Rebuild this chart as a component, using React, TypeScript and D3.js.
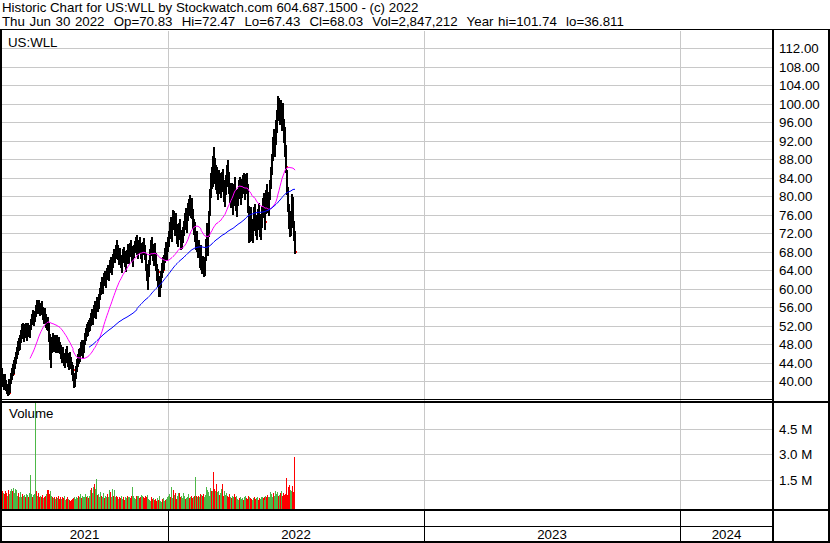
import React from 'react';
import * as d3 from 'd3';

const W = 830;
const H = 543;

// Daily bars, Mon-Fri from 2021-05-10 to 2022-06-30, one row per week.
const highs: number[] = [
  42.9, 41.5, 40.8, 41.6, 40.2, 39.5, 38.8, 40.6, 39.2, 40.2,
  41.8, 42.9, 43.8, 44.6, 45.3, 46.4, 47.5, 48.8, 49.4, 50.0,
  51.2, 52.4, 52.6, 51.5, 52.3, 52.5, 51.6, 52.6, 52.2, 52.0,
  53.4, 54.6, 55.4, 54.5, 55.3, 56.6, 57.6, 57.2, 57.5, 56.4,
  56.9, 57.3, 56.0, 55.2, 55.8, 54.6, 53.8, 53.9, 52.6, 50.2,
  47.8, 49.6, 50.4, 49.4, 50.1, 49.2, 50.0, 48.8, 49.6, 48.6,
  47.9, 46.8, 47.4, 46.1, 45.8, 46.9, 47.6, 46.2, 45.5, 46.3,
  45.3, 44.2, 43.1, 43.6, 41.9, 41.5, 43.4, 44.8, 46.0, 46.9,
  47.2, 48.4, 48.9, 48.0, 49.0, 50.4, 51.6, 52.4, 52.8, 53.3,
  53.6, 54.8, 55.6, 55.2, 56.4, 57.3, 56.6, 58.3, 58.0, 58.8,
  60.1, 61.4, 62.5, 61.8, 63.4, 63.8, 63.0, 64.6, 65.2, 64.8,
  66.2, 66.8, 66.0, 67.6, 68.5, 68.3, 69.4, 70.6, 69.5, 68.4,
  68.8, 67.4, 66.9, 68.5, 69.0, 68.2, 66.8, 68.4, 69.6, 68.6,
  69.8, 70.5, 69.2, 68.0, 69.4, 70.4, 71.3, 71.7, 70.8, 69.6,
  70.6, 71.2, 69.8, 68.7, 70.2, 71.0, 69.5, 67.6, 65.4, 63.5,
  66.3, 68.5, 70.6, 71.2, 69.6, 68.4, 69.8, 67.8, 65.4, 64.2,
  62.8, 61.6, 63.8, 65.6, 66.8, 67.4, 68.9, 70.2, 69.4, 71.2,
  72.6, 74.5, 75.6, 74.4, 77.0, 76.8, 75.2, 76.4, 74.0, 72.9,
  74.2, 75.0, 72.8, 71.6, 73.4, 74.6, 76.3, 77.4, 76.0, 78.5,
  79.4, 80.3, 79.2, 79.6, 77.2, 75.0, 74.4, 72.2, 72.6, 70.4,
  70.5, 68.6, 69.4, 67.8, 66.4, 67.2, 65.6, 66.8, 70.8, 74.2,
  72.4, 76.8, 81.6, 85.0, 86.4, 88.8, 90.7, 88.2, 86.8, 86.4,
  83.8, 85.7, 85.0, 83.4, 85.2, 86.0, 83.6, 82.0, 84.6, 86.8,
  87.8, 85.2, 82.8, 81.6, 82.8, 80.4, 82.6, 84.2, 81.4, 79.6,
  81.6, 83.6, 84.2, 82.4, 83.8, 84.6, 85.0, 83.4, 84.8, 85.0,
  82.6, 77.8, 75.4, 77.7, 75.2, 74.6, 77.6, 78.4, 76.0, 74.8,
  77.2, 78.5, 76.2, 74.6, 78.0, 79.6, 80.8, 78.6, 77.2, 81.4,
  82.6, 81.0, 80.6, 83.5, 86.4, 89.2, 92.8, 94.6, 93.4, 96.5,
  98.6, 101.74, 101.2, 100.4, 100.8, 99.6, 100.2, 96.8, 95.0, 91.0,
  85.7, 82.0, 78.4, 76.8, 75.6, 80.6, 79.8, 74.6, 72.47,
];

const lows: number[] = [
  39.5, 38.8, 38.2, 39.0, 37.8, 37.2, 36.811, 37.8, 37.0, 37.4,
  39.4, 40.3, 41.2, 41.5, 42.6, 43.8, 44.9, 45.6, 46.5, 46.8,
  48.3, 49.6, 49.2, 48.6, 49.4, 49.5, 48.8, 50.0, 49.6, 49.4,
  51.0, 52.2, 52.8, 52.0, 52.9, 54.0, 55.0, 54.5, 55.1, 54.2,
  54.3, 54.6, 53.2, 52.4, 52.8, 51.6, 51.0, 50.8, 48.6, 44.5,
  42.9, 46.2, 47.3, 46.4, 47.0, 46.1, 46.8, 46.2, 46.7, 45.8,
  44.8, 43.9, 44.6, 43.2, 42.8, 44.0, 44.6, 43.1, 42.4, 43.5,
  42.6, 41.3, 40.2, 40.0, 38.6, 38.8, 40.6, 42.0, 43.1, 43.8,
  44.2, 45.5, 45.8, 45.1, 46.2, 47.8, 48.8, 49.5, 49.9, 50.6,
  50.9, 52.0, 52.4, 52.2, 53.6, 54.4, 53.5, 55.4, 55.0, 55.6,
  57.6, 58.6, 59.4, 58.8, 60.5, 60.8, 60.2, 61.8, 62.3, 61.7,
  63.4, 63.9, 63.0, 64.6, 65.6, 65.5, 66.4, 67.6, 66.2, 65.1,
  65.6, 64.4, 63.4, 65.5, 66.0, 64.8, 63.6, 65.4, 66.5, 65.4,
  66.9, 67.2, 65.8, 64.7, 66.6, 67.8, 68.6, 68.9, 67.4, 66.5,
  67.6, 68.0, 66.4, 65.6, 67.3, 68.0, 66.2, 63.8, 61.6, 59.7,
  62.6, 65.2, 67.2, 67.8, 66.0, 65.0, 66.4, 63.8, 61.6, 60.4,
  58.3, 58.2, 60.2, 62.4, 63.4, 64.0, 65.6, 66.8, 66.0, 67.9,
  69.0, 70.8, 71.6, 70.2, 73.0, 72.8, 71.4, 72.5, 69.6, 69.0,
  70.6, 71.2, 68.4, 68.6, 69.8, 71.4, 72.8, 73.6, 72.0, 74.6,
  75.8, 76.8, 75.4, 75.2, 73.0, 71.6, 70.2, 68.4, 68.0, 66.6,
  66.8, 64.6, 65.8, 64.0, 63.2, 63.4, 62.5, 62.8, 66.0, 69.6,
  67.2, 71.2, 75.8, 79.6, 81.6, 82.0, 85.4, 82.6, 81.4, 80.6,
  79.2, 81.4, 80.6, 79.6, 81.0, 81.6, 78.8, 77.7, 80.2, 82.0,
  83.4, 80.6, 78.6, 77.4, 78.2, 76.0, 77.8, 79.6, 76.8, 75.5,
  77.8, 79.4, 80.2, 78.2, 79.6, 80.4, 81.2, 79.2, 80.6, 81.4,
  76.4, 70.0, 70.2, 72.8, 70.4, 70.0, 72.6, 73.8, 71.4, 70.6,
  72.8, 74.4, 71.2, 70.5, 73.2, 75.4, 76.6, 73.8, 72.7, 76.2,
  78.6, 76.4, 75.8, 79.2, 81.6, 84.6, 87.6, 89.4, 88.5, 91.2,
  93.7, 96.4, 96.2, 95.4, 95.8, 94.2, 94.8, 91.5, 88.6, 85.0,
  80.2, 76.6, 73.0, 71.2, 71.4, 74.4, 73.2, 70.4, 67.43,
];

const closes: number[] = [
  40.2, 39.4, 40.0, 39.2, 38.3, 37.6, 38.4, 38.1, 37.5, 39.8,
  41.2, 42.4, 41.6, 43.9, 44.5, 45.9, 46.2, 48.3, 47.1, 49.2,
  50.6, 51.8, 49.7, 50.9, 51.5, 50.1, 51.2, 52.0, 50.4, 51.6,
  52.9, 54.1, 53.2, 54.0, 54.8, 56.1, 55.4, 56.8, 55.6, 55.0,
  56.3, 55.1, 53.7, 54.6, 53.3, 52.2, 53.0, 51.3, 49.0, 45.2,
  47.2, 48.9, 47.9, 48.6, 47.6, 48.3, 47.1, 48.0, 47.4, 46.5,
  45.3, 46.2, 45.0, 44.1, 45.2, 46.3, 45.0, 43.6, 44.8, 44.0,
  43.0, 41.8, 42.4, 40.5, 39.2, 41.0, 42.9, 44.2, 45.4, 44.6,
  46.8, 47.6, 46.3, 47.5, 48.4, 49.9, 51.0, 50.2, 52.3, 51.4,
  53.1, 54.2, 53.0, 54.7, 55.9, 55.0, 56.2, 57.6, 55.8, 58.2,
  59.6, 60.8, 60.0, 61.3, 62.8, 61.5, 62.6, 64.0, 62.9, 64.3,
  65.6, 64.4, 65.3, 67.0, 66.2, 67.8, 68.9, 68.1, 66.8, 67.9,
  66.1, 65.0, 66.4, 67.8, 66.6, 65.3, 66.2, 67.9, 67.0, 68.1,
  69.2, 67.6, 66.4, 67.5, 68.9, 69.9, 70.8, 69.4, 68.0, 69.1,
  70.0, 68.5, 67.0, 68.2, 69.6, 68.6, 66.7, 64.3, 62.1, 62.8,
  65.8, 67.9, 69.8, 68.3, 66.5, 67.6, 66.9, 64.2, 62.3, 63.6,
  59.4, 60.9, 63.2, 64.8, 64.1, 66.8, 68.3, 67.4, 68.7, 70.4,
  71.9, 73.8, 72.3, 73.9, 76.2, 73.5, 74.6, 72.9, 70.3, 72.2,
  73.6, 71.8, 69.1, 70.9, 72.8, 73.9, 75.6, 74.2, 75.4, 77.8,
  78.6, 77.3, 78.8, 75.8, 73.6, 74.1, 70.8, 71.6, 68.6, 69.8,
  67.4, 67.9, 66.2, 64.6, 65.8, 64.0, 63.1, 66.2, 70.2, 70.4,
  71.8, 76.3, 80.9, 84.2, 82.4, 88.2, 86.0, 83.4, 85.6, 81.2,
  82.9, 84.6, 81.2, 82.8, 84.3, 82.2, 79.6, 81.4, 83.9, 85.6,
  84.0, 81.2, 79.4, 80.8, 78.8, 79.6, 81.9, 80.2, 77.4, 78.9,
  80.8, 82.9, 80.8, 81.7, 82.6, 83.8, 81.8, 82.6, 84.1, 82.2,
  77.0, 71.2, 74.6, 73.4, 71.0, 73.8, 76.9, 74.4, 72.0, 74.2,
  76.6, 75.0, 71.8, 73.9, 77.4, 79.0, 77.2, 74.4, 76.6, 80.8,
  79.2, 77.0, 80.1, 82.8, 85.9, 88.6, 91.9, 90.2, 92.8, 95.8,
  97.9, 99.6, 97.0, 99.8, 96.4, 98.6, 95.4, 92.2, 89.2, 86.4,
  81.0, 77.4, 73.8, 72.6, 74.8, 79.6, 73.8, 70.9, 68.03,
];

// Daily volume, millions of shares.
const volumes: number[] = [
  0.92, 0.85, 0.78, 0.7, 0.9, 0.75, 0.6, 0.95, 0.8, 0.7,
  0.85, 1.0, 0.9, 1.05, 0.75, 1.0, 0.95, 0.6, 0.75, 0.5,
  0.8, 0.55, 0.7, 0.6, 0.65, 0.5, 0.7, 0.65, 0.55, 0.75,
  1.8, 0.7, 0.5, 0.65, 0.7, 6.2, 0.9, 0.6, 0.75, 0.55,
  0.6, 0.5, 0.65, 0.45, 0.55, 0.6, 0.7, 0.95, 0.95, 0.7,
  0.9, 0.6, 0.5, 0.45, 0.55, 0.4, 0.5, 0.45, 0.6, 0.4,
  0.55, 0.4, 0.5, 0.45, 0.6, 0.35, 0.4, 0.55, 0.4, 0.35,
  0.3, 0.35, 0.3, 0.4, 0.45, 0.55, 0.4, 0.5, 0.45, 0.6,
  0.5, 0.7, 0.45, 0.6, 0.55, 0.5, 0.7, 0.55, 0.6, 0.45,
  0.6, 0.95, 1.05, 0.75, 1.1, 1.25, 1.0, 1.55, 0.65, 0.7,
  0.55, 0.8, 0.6, 0.5, 0.75, 0.45, 0.6, 0.55, 0.7, 0.5,
  0.95, 0.8, 0.55, 1.0, 0.6, 0.95, 0.55, 0.6, 0.5, 0.4,
  0.5, 0.45, 0.6, 0.4, 0.55, 0.35, 0.55, 0.45, 0.6, 0.5,
  0.55, 0.45, 0.6, 1.1, 0.6, 0.45, 0.4, 0.6, 0.55, 0.6,
  0.6, 0.45, 0.55, 0.65, 0.6, 0.55, 0.45, 0.6, 0.5, 0.65,
  0.4, 0.35, 0.3, 0.5, 0.4, 0.45, 0.35, 0.4, 0.3, 0.45,
  0.35, 0.6, 0.3, 0.25, 0.4, 0.45, 0.3, 0.35, 0.4, 0.55,
  0.6, 0.7, 0.55, 1.1, 0.45, 0.95, 0.65, 0.75, 0.4, 0.6,
  0.75, 0.75, 0.5, 0.6, 0.45, 0.75, 0.6, 0.4, 0.45, 0.55,
  0.7, 0.45, 0.5, 0.6, 0.45, 0.5, 0.6, 1.7, 0.6, 0.55,
  0.6, 0.5, 0.7, 0.55, 0.65, 0.6, 0.7, 0.55, 0.65, 1.1,
  0.95, 0.8, 0.6, 1.05, 0.85, 0.9, 1.95, 1.0, 0.85, 1.3,
  0.8, 0.9, 0.65, 0.75, 1.0, 1.3, 0.6, 0.9, 0.65, 0.75,
  0.6, 0.5, 0.7, 0.55, 0.45, 0.6, 0.55, 0.7, 0.5, 0.6,
  0.4, 0.35, 0.45, 0.55, 0.4, 0.45, 0.35, 0.5, 0.6, 0.45,
  0.4, 0.6, 0.55, 0.45, 0.4, 0.35, 0.45, 0.5, 0.4, 0.45,
  0.55, 0.35, 0.45, 0.4, 0.5, 0.55, 0.45, 0.5, 0.35, 0.6,
  0.55, 0.65, 0.55, 0.5, 0.8, 0.7, 0.55, 0.75, 0.6, 0.85,
  0.7, 0.8, 0.6, 0.65, 0.75, 0.85, 0.6, 0.75, 0.65, 0.7,
  1.6, 0.65, 1.1, 1.2, 0.95, 0.9, 1.15, 0.8, 2.847,
];

const priceTicks: number[] = [40, 44, 48, 52, 56, 60, 64, 68, 72, 76, 80, 84, 88, 92, 96, 100, 104, 108, 112];
const volumeTicks: number[] = [1.5, 3.0, 4.5];
const yearLabels: string[] = ['2021', '2022', '2023', '2024'];
const yearStarts: Date[] = [new Date(2022, 0, 1), new Date(2023, 0, 1), new Date(2024, 0, 1)];
const firstDay = new Date(2021, 4, 10);

const titleLine = 'Historic Chart for US:WLL by Stockwatch.com 604.687.1500 - (c) 2022';
const quoteLine = 'Thu Jun 30 2022  Op=70.83  Hi=72.47  Lo=67.43  Cl=68.03  Vol=2,847,212  Year hi=101.74  lo=36.811';
const symbol = 'US:WLL';

const FAST_MA = 30;
const SLOW_MA = 90;

// Layout
const PLOT_L = 1;
const AXIS_X = 773;
const PRICE_TOP = 31;
const PRICE_BOTTOM = 399;
const VOL_TOP = 403;
const VOL_BOTTOM = 509;
const FONT = '"Liberation Sans", Arial, sans-serif';
const FS = 13.3;

const isWeekday = (d: Date) => d.getDay() !== 0 && d.getDay() !== 6;
const weekdayIndex = (date: Date) => d3.timeDay.range(firstDay, date).filter(isWeekday).length;

function movingAverage(values: number[], w: number): [number, number][] {
  const out: [number, number][] = [];
  for (let i = w - 1; i < values.length; i++) {
    out.push([i, d3.mean(values.slice(i - w + 1, i + 1)) as number]);
  }
  return out;
}

export default function App() {
  const n = closes.length;
  const yearIdx = yearStarts.map(weekdayIndex);

  const x = d3.scaleLinear().domain([yearIdx[0], yearIdx[1]]).range([168, 424]);
  const yP = d3.scaleLinear().domain([40, 112]).range([381.3, 48.3]);
  const yV = d3.scaleLinear().domain([0, 4.5]).range([506, 428.5]);

  const px = (i: number) => Math.round(x(i));
  const yearX = yearIdx.map((i) => Math.round(x(i)));
  const bounds = [PLOT_L, ...yearX, AXIS_X];

  // High-low bars two pixels wide; the red close mark sits just right of each
  // bar and stays visible only where the following bar does not cover it.
  let barPath = '';
  let tickPath = '';
  for (let i = 0; i < n; i++) {
    const xi = px(i);
    const top = Math.round(yP(highs[i]));
    const bot = Math.max(Math.round(yP(lows[i])), top + 1);
    barPath += `M${xi + 1},${top}V${bot}`;
    const yc = Math.round(yP(closes[i]));
    tickPath += `M${xi + 2.5},${yc - 1}V${yc + 1}`;
  }

  const maLine = d3
    .line<[number, number]>()
    .x((d) => px(d[0]) + 1)
    .y((d) => yP(d[1]));
  const fast = maLine(movingAverage(closes, FAST_MA)) || '';
  const slow = maLine(movingAverage(closes, SLOW_MA)) || '';

  const gridColor = '#c8c8c8';

  return (
    <svg width={W} height={H} style={{ display: 'block', position: 'absolute', left: 0, top: 0 }} fontFamily={FONT}>
      <defs>
        <clipPath id="priceClip">
          <rect x={PLOT_L} y={PRICE_TOP} width={AXIS_X - PLOT_L} height={PRICE_BOTTOM - PRICE_TOP} />
        </clipPath>
        <clipPath id="volClip">
          <rect x={PLOT_L} y={VOL_TOP} width={AXIS_X - PLOT_L} height={VOL_BOTTOM - VOL_TOP} />
        </clipPath>
      </defs>
      <rect x={0} y={0} width={W} height={H} fill="#fff" />

      <text x={2} y={12} fontSize={FS} fill="#000">{titleLine}</text>
      <text x={2} y={26} fontSize={FS} fill="#000" wordSpacing={0.9} style={{ whiteSpace: 'pre' }}>{quoteLine}</text>

      <g shapeRendering="crispEdges" stroke={gridColor} strokeWidth={1}>
        {priceTicks.map((t) => (
          <line key={'pg' + t} x1={PLOT_L} x2={AXIS_X} y1={Math.round(yP(t)) + 0.5} y2={Math.round(yP(t)) + 0.5} />
        ))}
        {volumeTicks.map((t) => (
          <line key={'vg' + t} x1={PLOT_L} x2={AXIS_X} y1={Math.round(yV(t)) + 0.5} y2={Math.round(yV(t)) + 0.5} />
        ))}
        {yearX.map((xv, i) => (
          <line key={'yg' + i} x1={xv + 0.5} x2={xv + 0.5} y1={PRICE_TOP} y2={VOL_BOTTOM} />
        ))}
      </g>

      <g clipPath="url(#priceClip)">
        <path d={tickPath} stroke="#ff0000" strokeWidth={1} fill="none" shapeRendering="crispEdges" />
        <path d={barPath} stroke="#000" strokeWidth={2} fill="none" shapeRendering="crispEdges" />
        <path d={fast} stroke="#ff00ff" strokeWidth={1} fill="none" />
        <path d={slow} stroke="#0000ff" strokeWidth={1} fill="none" />
      </g>

      <g clipPath="url(#volClip)" shapeRendering="crispEdges">
        {volumes.map((v, i) => {
          const up = i === 0 || closes[i] >= closes[i - 1];
          const top = Math.round(yV(v));
          return (
            <rect key={'v' + i} x={px(i)} y={top} width={1} height={VOL_BOTTOM - top} fill={up ? '#4db848' : '#ff0000'} />
          );
        })}
      </g>

      <g fill="#000" shapeRendering="crispEdges">
        <rect x={0} y={29} width={W} height={1} />
        <rect x={0} y={29} width={2} height={H - 29} />
        <rect x={828} y={29} width={2} height={H - 29} />
        <rect x={0} y={541} width={W} height={2} />
        <rect x={AXIS_X - 1} y={29} width={2} height={H - 29} />
        <rect x={0} y={PRICE_BOTTOM} width={AXIS_X} height={1} />
        <rect x={0} y={PRICE_BOTTOM + 2} width={W} height={2} />
        <rect x={0} y={VOL_BOTTOM} width={W} height={2} />
        <rect x={0} y={526} width={AXIS_X} height={1} />
        {yearX.map((xv, i) => (
          <rect key={'yb' + i} x={xv} y={VOL_BOTTOM} width={1} height={H - VOL_BOTTOM} />
        ))}
      </g>

      <text x={8} y={47} fontSize={FS} fill="#000">{symbol}</text>
      <text x={9} y={418} fontSize={FS} fill="#000">Volume</text>

      {priceTicks.map((t) => (
        <text key={'pl' + t} x={779} y={Math.round(yP(t)) + 5} fontSize={FS} fill="#000">
          {t.toFixed(2)}
        </text>
      ))}
      {volumeTicks.map((t) => (
        <text key={'vl' + t} x={779} y={Math.round(yV(t)) + 5} fontSize={FS} fill="#000">
          {t.toFixed(1) + ' M'}
        </text>
      ))}
      {yearLabels.map((label, i) => (
        <text key={'yl' + label} x={(bounds[i] + bounds[i + 1]) / 2} y={539} fontSize={FS} textAnchor="middle" fill="#000">
          {label}
        </text>
      ))}
    </svg>
  );
}
